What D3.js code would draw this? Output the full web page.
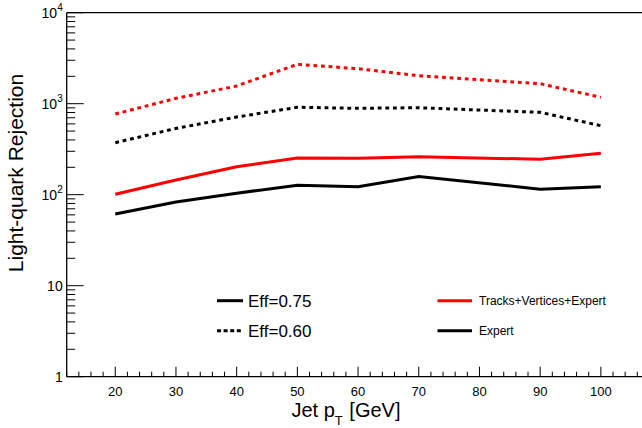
<!DOCTYPE html>
<html><head><meta charset="utf-8">
<script src="https://cdn.jsdelivr.net/npm/d3@7"></script>
<style>body{margin:0;background:#fff}svg{display:block;font-family:"Liberation Sans",Arial,sans-serif}</style>
</head><body><svg id="c" width="642" height="428"></svg>
<script>
const pt = [20, 30, 40, 50, 60, 70, 90, 100];
const redDotted = [771, 1146, 1565, 2710, 2425, 2030, 1660, 1176];
const blackDotted = [373, 535, 714, 913, 890, 903, 804, 573];
const redSolid = [101, 145, 203, 253, 251, 262, 245, 285];
const blackSolid = [61.4, 83, 104, 127, 122, 158, 115, 122];
const xTicks = [20, 30, 40, 50, 60, 70, 80, 90, 100];
const yTicks = [1, 10, 100, 1000, 10000];

const svg = d3.select("#c");
const L = 66.7, T = 12.7, B = 376.7;
const x = d3.scaleLinear().domain([12, 108]).range([L, L + 96 * 6.07]);
const y = d3.scaleLog().domain([1, 10000]).range([B, T]);

// frame
svg.append("line").attr("x1", L).attr("x2", 660).attr("y1", T).attr("y2", T).attr("stroke", "#000").attr("stroke-width", 1.3);

// x axis
const xMinor = d3.range(12, 109, 2);
const xa = svg.append("g");
xa.selectAll("line.t").data(xMinor).join("line")
  .attr("x1", d => x(d)).attr("x2", d => x(d))
  .attr("y1", B).attr("y2", d => B - (d % 10 === 0 ? 10 : 5))
  .attr("stroke", "#000").attr("stroke-width", 1);
xa.append("line").attr("x1", L).attr("x2", 660).attr("y1", B).attr("y2", B).attr("stroke", "#000").attr("stroke-width", 1.3);
xa.selectAll("text").data(xTicks).join("text")
  .attr("x", d => x(d)).attr("y", B + 19).attr("text-anchor", "middle")
  .attr("font-size", 13).text(d => d);

// y axis
const ya = svg.append("g");
const yMinor = [];
for (let e = 0; e < 4; e++) for (let m = 1; m <= 9; m++) yMinor.push(m * Math.pow(10, e));
yMinor.push(10000);
ya.selectAll("line.t").data(yMinor).join("line")
  .attr("y1", d => y(d)).attr("y2", d => y(d))
  .attr("x1", L).attr("x2", d => L + (yTicks.includes(d) ? 17 : 8.5))
  .attr("stroke", "#000").attr("stroke-width", 1);
ya.append("line").attr("x1", L).attr("x2", L).attr("y1", T).attr("y2", B).attr("stroke", "#000").attr("stroke-width", 1.3);
yTicks.forEach(d => {
  const e = Math.round(Math.log10(d));
  const t = ya.append("text").attr("x", L - 4).attr("y", y(d) + 5).attr("text-anchor", "end").attr("font-size", 14);
  if (e === 0) t.text("1");
  else if (e === 1) t.text("10");
  else { t.append("tspan").text("10"); t.append("tspan").attr("dy", -7).attr("font-size", 10).text(e); }
});

// titles
const xt = svg.append("text").attr("x", 291.5).attr("y", 416.5).attr("font-size", 20);
xt.append("tspan").text("Jet p");
xt.append("tspan").attr("dx", 0).attr("dy", 8).attr("font-size", 13).text("T");
xt.append("tspan").attr("dx", 1).attr("dy", -8).text(" [GeV]");
svg.append("text").attr("transform", "translate(23,173) rotate(-90)").attr("text-anchor", "middle")
  .attr("font-size", 21).text("Light-quark Rejection");

// lines
const line = d3.line().x((d, i) => x(pt[i])).y(d => y(d));
const series = [
  { v: redDotted, c: "#ff0000", dash: "3.8,3.8" },
  { v: blackDotted, c: "#000", dash: "3.8,3.8" },
  { v: redSolid, c: "#ff0000", dash: null },
  { v: blackSolid, c: "#000", dash: null }
];
series.forEach(s => {
  svg.append("path").datum(s.v).attr("d", line).attr("fill", "none")
    .attr("stroke", s.c).attr("stroke-width", 3).attr("stroke-dasharray", s.dash);
});

// legends
const leg1 = [{ t: "Eff=0.75", dash: null, y: 300.7 }, { t: "Eff=0.60", dash: "4,2.6", y: 330.7 }];
leg1.forEach(l => {
  svg.append("line").attr("x1", 217).attr("x2", 243).attr("y1", l.y).attr("y2", l.y)
    .attr("stroke", "#000").attr("stroke-width", 3).attr("stroke-dasharray", l.dash);
  svg.append("text").attr("x", 248).attr("y", l.y + 6.5).attr("font-size", 17).text(l.t);
});
const leg2 = [{ t: "Tracks+Vertices+Expert", c: "#ff0000", y: 300.7 }, { t: "Expert", c: "#000", y: 330.7 }];
leg2.forEach(l => {
  svg.append("line").attr("x1", 437.5).attr("x2", 472).attr("y1", l.y).attr("y2", l.y)
    .attr("stroke", l.c).attr("stroke-width", 3);
  svg.append("text").attr("x", 479).attr("y", l.y + 4.5).attr("font-size", 12).text(l.t);
});
</script></body></html>
